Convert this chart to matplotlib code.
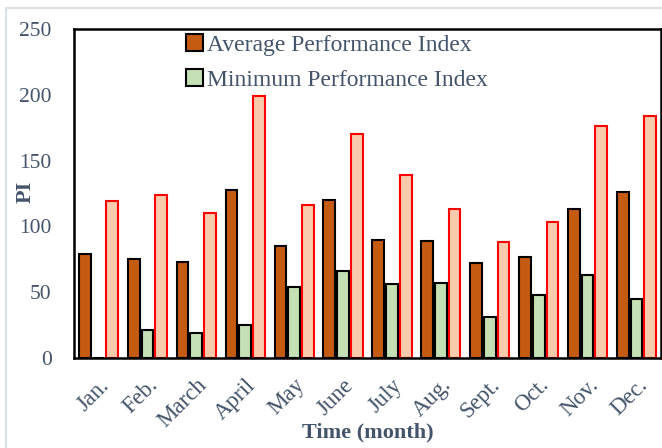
import numpy as np
import matplotlib.pyplot as plt
from matplotlib.patches import Rectangle

# monthly performance index values
months = ['Jan.', 'Feb.', 'March', 'April', 'May', 'June', 'July', 'Aug.',
          'Sept.', 'Oct.', 'Nov.', 'Dec.']
avg_pi = [79, 75, 73, 128, 85, 120, 90, 89, 72, 77, 113.5, 126]
min_pi = [0, 21, 19, 25, 54, 66, 56, 57, 31, 48, 63, 45]
max_pi = [119, 124, 110, 199, 116, 170, 139, 113, 88, 103, 176, 184]

text_color = '#44546A'
plt.rcParams['font.family'] = ['Liberation Serif', 'DejaVu Serif']

fig = plt.figure(figsize=(6.62, 4.48), dpi=100)
# light frame around the chart area
fig.patches.append(Rectangle((6 / 662, -0.05), 1.0, 1 - 8 / 448 + 0.05,
                             transform=fig.transFigure, fill=False,
                             edgecolor='#DCE1E8', linewidth=1.5))
ax = fig.add_axes([74 / 662, 1 - 358 / 448, 587 / 662, 329 / 448])

x = np.arange(len(months))
w = 0.24
step = 0.28
ax.bar(x - step, avg_pi, w, color='#C55A11', edgecolor='black', linewidth=1.5,
       label='Average Performance Index')
ax.bar(x, min_pi, w, color='#C5E0B4', edgecolor='black', linewidth=1.5,
       label='Minimum Performance Index')
ax.bar(x + step, max_pi, w, color='#F8CBAD', edgecolor='#FF0000', linewidth=1.5)

ax.set_xlim(-0.5, len(months) - 0.5)
ax.set_ylim(0, 250)
ax.set_yticks(range(0, 251, 50))
ax.set_xticks(x)
ax.set_xticklabels(months, rotation=45, ha='right', rotation_mode='anchor')
ax.tick_params(length=0, labelsize=15.5, colors=text_color)
ax.tick_params(axis='y', pad=16)
ax.tick_params(axis='x', pad=12, labelsize=16.5)
for s in ax.spines.values():
    s.set_linewidth(1.8)
    s.set_color('black')

fig.text(26 / 662, 1 - 192 / 448, 'PI', rotation=90, ha='center', va='center',
         fontsize=16, fontweight='bold', color=text_color)
ax.set_xlabel('Time (month)', fontsize=16, fontweight='bold', color=text_color,
              labelpad=-7)

leg = ax.legend(loc='upper left', bbox_to_anchor=(0.162, 1.035), frameon=False,
                fontsize=17, handlelength=0.75, handleheight=0.75,
                handletextpad=0.15, labelspacing=0.55, borderpad=0.2)
for t in leg.get_texts():
    t.set_color(text_color)

fig.savefig('out.png', dpi=100)
